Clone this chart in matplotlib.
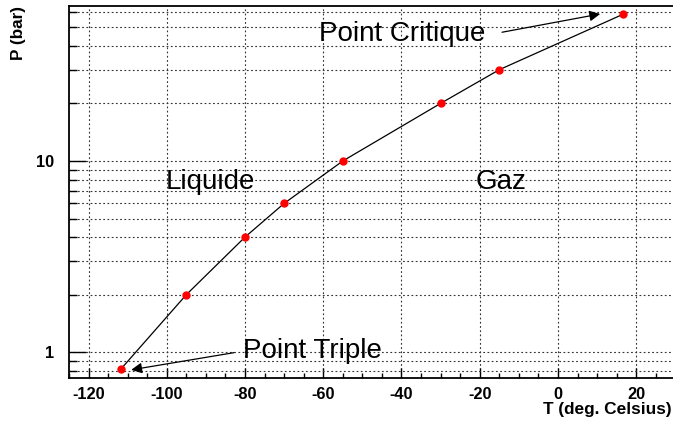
import matplotlib
matplotlib.use("Agg")
import matplotlib.pyplot as plt
from matplotlib.ticker import FixedLocator, NullFormatter, FixedFormatter

# Xenon liquid-gas saturation curve
temperature = [-111.75, -95.0, -80.0, -70.0, -55.0, -30.0, -15.0, 16.58]   # deg. Celsius
pressure = [0.816, 2.0, 4.0, 6.0, 10.0, 20.0, 30.0, 58.4]                  # bar

x_major = [-120, -100, -80, -60, -40, -20, 0, 20]
x_minor = [v for v in range(-125, 31, 5) if v % 20 != 0]
y_major = [1, 10]
y_major_labels = ["1", "10"]
y_minor = [0.8, 0.9, 2, 3, 4, 5, 6, 7, 8, 9, 20, 30, 40, 50, 60]

plt.rcParams["font.family"] = ["Liberation Sans", "DejaVu Sans"]
plt.rcParams["font.weight"] = "bold"
plt.rcParams["axes.unicode_minus"] = False

fig = plt.figure(figsize=(6.73, 4.21), dpi=100)
ax = fig.add_axes([69 / 673, 1 - 377.7 / 421, (675.3 - 69) / 673, (377.7 - 6) / 421])

ax.set_yscale("log")
ax.set_xlim(-125, 30)
ax.set_ylim(0.736, 64.6)

ax.xaxis.set_major_locator(FixedLocator(x_major))
ax.xaxis.set_minor_locator(FixedLocator(x_minor))
ax.yaxis.set_major_locator(FixedLocator(y_major))
ax.yaxis.set_major_formatter(FixedFormatter(y_major_labels))
ax.yaxis.set_minor_locator(FixedLocator(y_minor))
ax.yaxis.set_minor_formatter(NullFormatter())

ax.tick_params(axis="x", which="major", direction="in", length=7.2, width=1.0,
               labelsize=11.8, pad=6.5, top=False)
ax.tick_params(axis="x", which="minor", direction="in", length=3.6, width=1.0, top=False)
ax.tick_params(axis="y", which="major", direction="in", length=12, width=1.0,
               labelsize=11.8, pad=11, right=False)
ax.tick_params(axis="y", which="minor", direction="in", length=6, width=1.0, right=False)

for sp in ax.spines.values():
    sp.set_linewidth(1.3)

grid_style = dict(color="#333333", linewidth=0.8, linestyle=(0, (1.6, 2.2)))
ax.grid(True, axis="x", which="major", **grid_style)
ax.grid(True, axis="y", which="both", **grid_style)
ax.set_axisbelow(True)

# saturation curve with measured points
ax.plot(temperature, pressure, color="black", linewidth=0.9, zorder=3)
ax.plot(temperature, pressure, linestyle="none", marker="o", markersize=5,
        color="red", markeredgecolor="red", zorder=4)

# phase region labels
label_font = dict(fontsize=20, fontweight="normal", ha="left", va="baseline")
ax.text(-100.2, 7.1, "Liquide", **label_font)
ax.text(-21.1, 7.1, "Gaz", **label_font)

# annotated special points
arrow = dict(arrowstyle="-|>", color="black", lw=0.9, mutation_scale=16,
             shrinkA=0, shrinkB=0)
ax.text(-61.1, 42.4, "Point Critique", **label_font)
ax.annotate("", xy=(10.8, 58.7), xytext=(-14.3, 47.1), arrowprops=arrow)
ax.text(-80.5, 0.93, "Point Triple", **label_font)
ax.annotate("", xy=(-109.1, 0.809), xytext=(-82.8, 0.995), arrowprops=arrow)

# axis titles
fig.text(671.5 / 673, 1 - 414 / 421, "T (deg. Celsius)", fontsize=12.4,
         fontweight="bold", ha="right", va="baseline")
fig.text(18 / 673, 1 - 6 / 421, "P (bar)", fontsize=12.3, fontweight="bold",
         rotation=90, ha="center", va="top")

fig.savefig("out.png", dpi=100)
